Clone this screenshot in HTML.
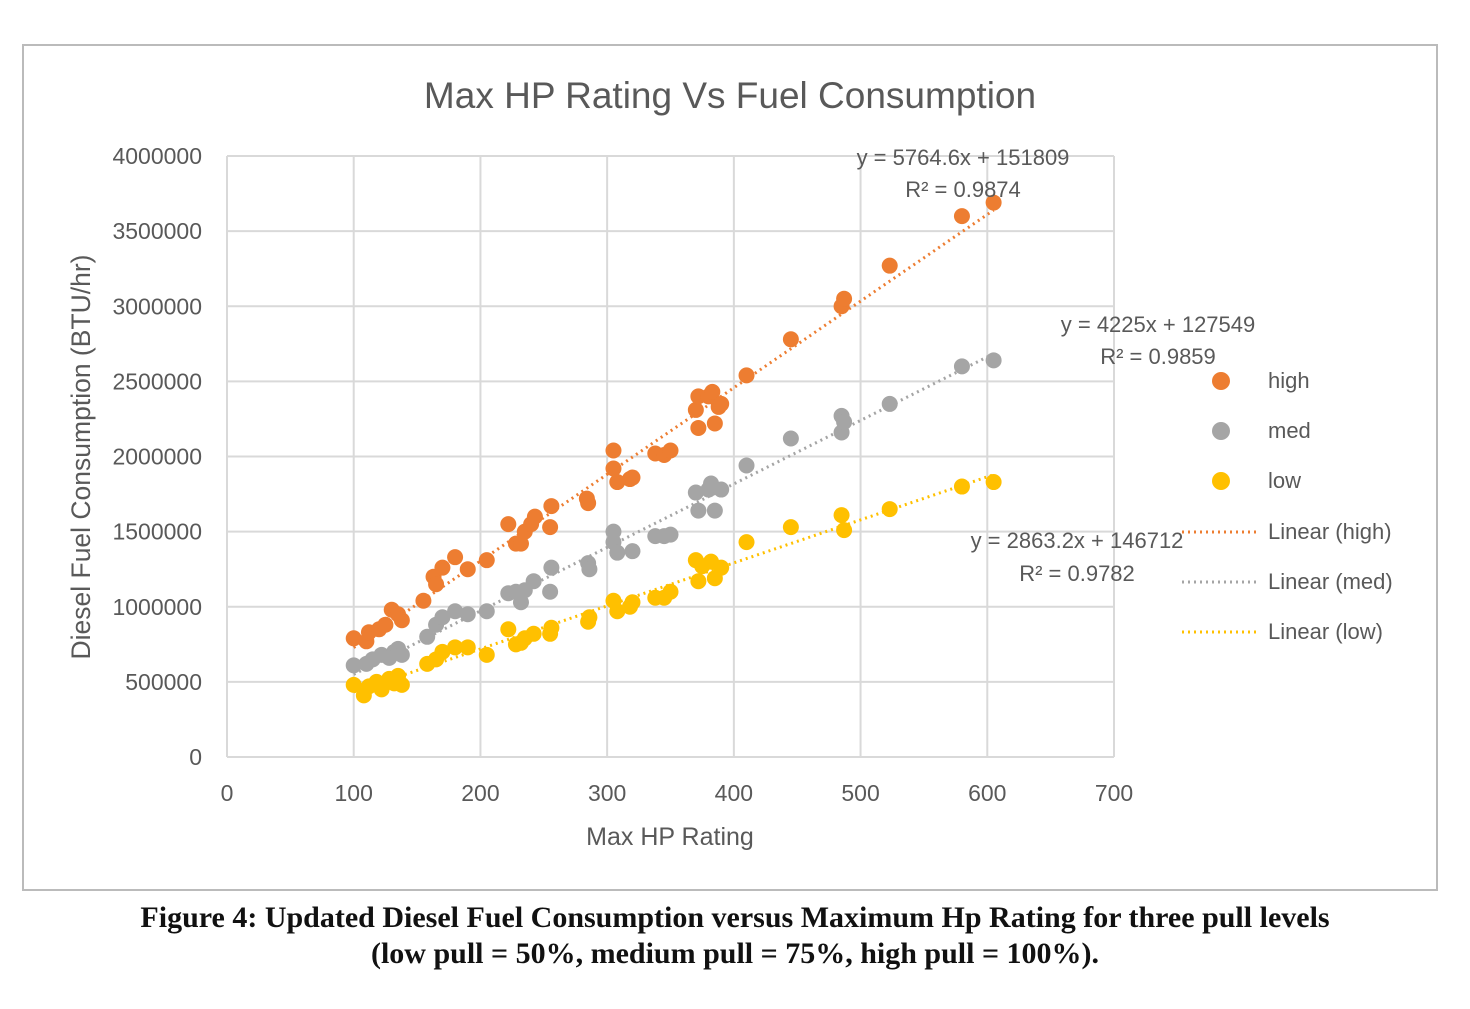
<!DOCTYPE html>
<html><head><meta charset="utf-8"><style>
body{margin:0;background:#fff;width:1470px;height:1009px;overflow:hidden}
svg text{font-family:"Liberation Sans",sans-serif}
.cap{position:absolute;left:0;width:1470px;text-align:center;font-family:"Liberation Serif",serif;font-weight:bold;font-size:30px;color:#111}
</style></head><body>
<svg id="chart" width="1470" height="1009" style="position:absolute;left:0;top:0">
<rect x="23" y="45" width="1414" height="845" fill="#fff" stroke="#bbb" stroke-width="2"/>
<text x="730" y="108" text-anchor="middle" font-size="37" fill="#595959">Max HP Rating Vs Fuel Consumption</text>
<g id="grid"></g><g id="trend"></g><g id="pts"></g><g id="ticks"></g>
<text x="670" y="845" text-anchor="middle" font-size="25" fill="#595959">Max HP Rating</text>
<text transform="translate(90,457) rotate(-90)" text-anchor="middle" font-size="26.5" fill="#595959">Diesel Fuel Consumption (BTU/hr)</text>
<g font-size="22" fill="#595959">
<text x="963" y="165" text-anchor="middle">y = 5764.6x + 151809</text>
<text x="963" y="197" text-anchor="middle">R² = 0.9874</text>
<text x="1158" y="332" text-anchor="middle">y = 4225x + 127549</text>
<text x="1158" y="364" text-anchor="middle">R² = 0.9859</text>
<text x="1077" y="548" text-anchor="middle">y = 2863.2x + 146712</text>
<text x="1077" y="581" text-anchor="middle">R² = 0.9782</text>
</g>
<g id="legend" font-size="22" fill="#595959">
<circle cx="1221" cy="381" r="9" fill="#ED7D31"/><text x="1268" y="388">high</text>
<circle cx="1221" cy="431" r="9" fill="#A5A5A5"/><text x="1268" y="438">med</text>
<circle cx="1221" cy="481" r="9" fill="#FFC000"/><text x="1268" y="488">low</text>
<line x1="1182" y1="532" x2="1256" y2="532" stroke="#ED7D31" stroke-width="3" stroke-dasharray="2,4"/><text x="1268" y="539">Linear (high)</text>
<line x1="1182" y1="582" x2="1256" y2="582" stroke="#A5A5A5" stroke-width="3" stroke-dasharray="2,4"/><text x="1268" y="589">Linear (med)</text>
<line x1="1182" y1="632" x2="1256" y2="632" stroke="#FFC000" stroke-width="3" stroke-dasharray="2,4"/><text x="1268" y="639">Linear (low)</text>
</g>
</svg>
<div class="cap" style="top:900px;line-height:36px">Figure 4: Updated Diesel Fuel Consumption versus Maximum Hp Rating for three pull levels<br>(low pull = 50%, medium pull = 75%, high pull = 100%).</div>
<script>
const xTicks=[0,100,200,300,400,500,600,700];
const yTicks=[0,500000,1000000,1500000,2000000,2500000,3000000,3500000,4000000];
const highData=[[100,790000],[110,770000],[112,830000],[120,850000],[125,880000],[130,980000],[135,950000],[138,910000],[155,1040000],[163,1200000],[165,1150000],[170,1260000],[180,1330000],[190,1250000],[205,1310000],[222,1550000],[228,1420000],[232,1420000],[235,1500000],[240,1550000],[243,1600000],[255,1530000],[256,1670000],[284,1720000],[285,1690000],[305,2040000],[305,1920000],[308,1830000],[318,1850000],[320,1860000],[338,2020000],[345,2010000],[350,2040000],[370,2310000],[372,2400000],[372,2190000],[380,2400000],[383,2430000],[385,2220000],[388,2330000],[390,2350000],[410,2540000],[445,2780000],[485,3000000],[487,3050000],[523,3270000],[580,3600000],[605,3690000]];
const medData=[[100,610000],[110,620000],[115,650000],[122,680000],[128,660000],[132,700000],[135,720000],[138,680000],[158,800000],[165,880000],[170,930000],[180,970000],[190,950000],[205,970000],[222,1090000],[228,1100000],[232,1030000],[235,1110000],[242,1170000],[255,1100000],[256,1260000],[285,1290000],[286,1250000],[305,1500000],[305,1430000],[308,1360000],[320,1370000],[338,1470000],[345,1470000],[350,1480000],[370,1760000],[372,1640000],[380,1780000],[382,1820000],[385,1640000],[390,1780000],[410,1940000],[445,2120000],[485,2270000],[485,2160000],[487,2230000],[523,2350000],[580,2600000],[605,2640000]];
const lowData=[[100,480000],[108,410000],[112,470000],[118,500000],[122,450000],[128,520000],[132,490000],[135,540000],[138,480000],[158,620000],[165,650000],[170,700000],[180,730000],[190,730000],[205,680000],[222,850000],[228,750000],[232,760000],[235,790000],[242,820000],[255,820000],[256,860000],[285,900000],[286,930000],[305,1040000],[308,970000],[318,1000000],[320,1030000],[338,1060000],[345,1060000],[350,1100000],[370,1310000],[372,1170000],[375,1270000],[382,1300000],[385,1190000],[390,1260000],[410,1430000],[445,1530000],[485,1610000],[487,1510000],[523,1650000],[580,1800000],[605,1830000]];
const trendCoef=[[5764.6,151809],[4225,127549],[2863.2,146712]];
const NS='http://www.w3.org/2000/svg';
const X=v=>227+v*(1114-227)/700, Y=v=>757-v*(757-156)/4000000;
function mk(p,t,a){const e=document.createElementNS(NS,t);for(const k in a)e.setAttribute(k,a[k]);document.getElementById(p).appendChild(e);return e;}
yTicks.forEach(v=>{const l=mk('grid','line',{x1:227,x2:1114,y1:Y(v),y2:Y(v),stroke:'#d9d9d9','stroke-width':2});


const t=mk('ticks','text',{x:202,y:Y(v)+8,'text-anchor':'end','font-size':23,fill:'#595959'});t.textContent=v;

});
xTicks.forEach(v=>{const l=mk('grid','line',{x1:X(v),x2:X(v),y1:156,y2:757,stroke:'#d9d9d9','stroke-width':2});


const t=mk('ticks','text',{x:X(v),y:801,'text-anchor':'middle','font-size':23,fill:'#595959'});t.textContent=v;

});
const series=[[highData,'#ED7D31','high'],[medData,'#A5A5A5','med'],[lowData,'#FFC000','low']];
series.forEach((s,i)=>{
s[0].forEach(d=>{const c=mk('pts','circle',{cx:X(d[0]),cy:Y(d[1]),r:8,fill:s[1]});

});
const [m,b]=trendCoef[i];
const l=mk('trend','line',{x1:X(100),y1:Y(m*100+b),x2:X(605),y2:Y(m*605+b),stroke:s[1],'stroke-width':3,'stroke-dasharray':'2,4'});

});
</script>
</body></html>
